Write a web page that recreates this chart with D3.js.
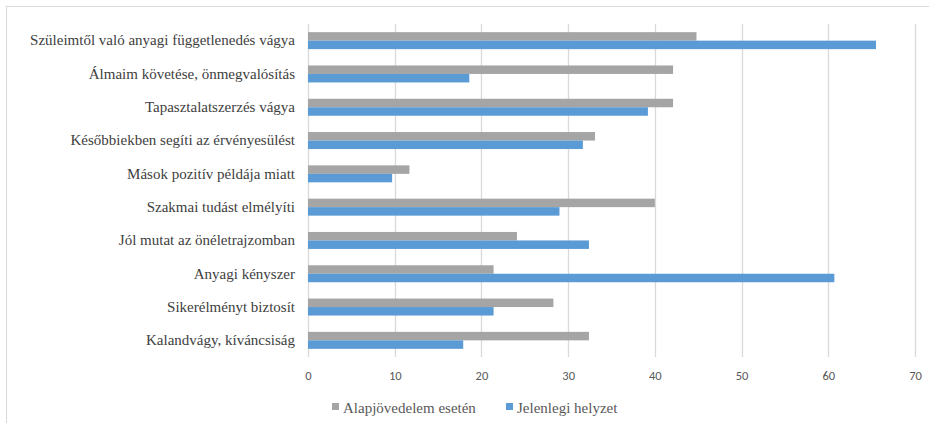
<!DOCTYPE html>
<html>
<head>
<meta charset="utf-8">
<script src="https://cdn.jsdelivr.net/npm/d3@7"></script>
<style>
  body { margin: 0; background: #fff; }
  svg { display: block; }
  .serif { font-family: "Liberation Serif", "Times New Roman", Times, "DejaVu Serif", serif; }
</style>
</head>
<body>
<svg id="chart" width="929" height="423"></svg>
<script>
var categories = [
  "Szüleimtől való anyagi függetlenedés vágya",
  "Álmaim követése, önmegvalósítás",
  "Tapasztalatszerzés vágya",
  "Későbbiekben segíti az érvényesülést",
  "Mások pozitív példája miatt",
  "Szakmai tudást elmélyíti",
  "Jól mutat az önéletrajzomban",
  "Anyagi kényszer",
  "Sikerélményt biztosít",
  "Kalandvágy, kíváncsiság"
];
var alapjovedelem = [44.8, 42.1, 42.1, 33.1, 11.7, 40.0, 24.1, 21.4, 28.3, 32.4];
var jelenlegi = [65.5, 18.6, 39.2, 31.7, 9.7, 29.0, 32.4, 60.7, 21.4, 17.9];
var seriesNames = ["Alapjövedelem esetén", "Jelenlegi helyzet"];
var xTicks = [0, 10, 20, 30, 40, 50, 60, 70];

var colors = ["#a5a5a5", "#5b9bd5"];
var series = [alapjovedelem, jelenlegi];

var svg = d3.select('#chart');
var margin = {top: 24, right: 14, bottom: 66, left: 308};
var width = 929 - margin.left - margin.right;
var height = 423 - margin.top - margin.bottom;

// outer frame (only top and left edges are inside the picture)
svg.append('rect')
    .attr('x', 6.5).attr('y', 6.5)
    .attr('width', 960).attr('height', 460)
    .attr('fill', 'none')
    .attr('stroke', '#d9d9d9');

var g = svg.append('g').attr('transform', 'translate(' + margin.left + ',' + margin.top + ')');

var x = d3.scaleLinear().domain([0, 70]).range([0, 607]);
var y = d3.scaleBand().domain(categories).range([0, height]).paddingInner(0.49).paddingOuter(0.245);
var y1 = d3.scaleBand().domain([0, 1]).range([0, y.bandwidth()]);

// gridlines
g.selectAll('line.grid').data(xTicks).enter().append('line')
    .attr('class', 'grid')
    .attr('x1', function(d) { return Math.round(x(d)) + 0.5; })
    .attr('x2', function(d) { return Math.round(x(d)) + 0.5; })
    .attr('y1', 0).attr('y2', height)
    .attr('stroke', '#d9d9d9').attr('stroke-width', 1.3);

// bars
series.forEach(function(vals, si) {
  g.selectAll('rect.s' + si).data(vals).enter().append('rect')
      .attr('class', 's' + si)
      .attr('x', x(0))
      .attr('y', function(d, i) { return y(categories[i]) + y1(si); })
      .attr('width', function(d) { return x(d) - x(0); })
      .attr('height', y1.bandwidth())
      .attr('fill', colors[si]);
});

// x axis labels
var xAxis = g.append('g').attr('transform', 'translate(0,' + height + ')')
    .call(d3.axisBottom(x).tickValues(xTicks).tickSize(0).tickPadding(14));
xAxis.select('.domain').remove();
xAxis.attr('font-family', 'Carlito, "Liberation Sans", Arial, sans-serif').attr('font-size', 12.5);
xAxis.selectAll('text').attr('fill', '#595959');

// category labels
var yAxis = g.append('g')
    .call(d3.axisLeft(y).tickSize(0).tickPadding(13));
yAxis.select('.domain').remove();
yAxis.attr('font-family', null).attr('font-size', 15).attr('class', 'serif');
yAxis.selectAll('text').attr('fill', '#404040');

// legend
var legendX = [332, 506];
var legend = svg.append('g').attr('class', 'serif').attr('font-size', 15);
seriesNames.forEach(function(name, i) {
  legend.append('rect')
      .attr('x', legendX[i]).attr('y', 403)
      .attr('width', 7).attr('height', 7)
      .attr('fill', colors[i]);
  legend.append('text')
      .attr('x', legendX[i] + 11).attr('y', 412.5)
      .attr('fill', '#595959')
      .text(name);
});
</script>
</body>
</html>
